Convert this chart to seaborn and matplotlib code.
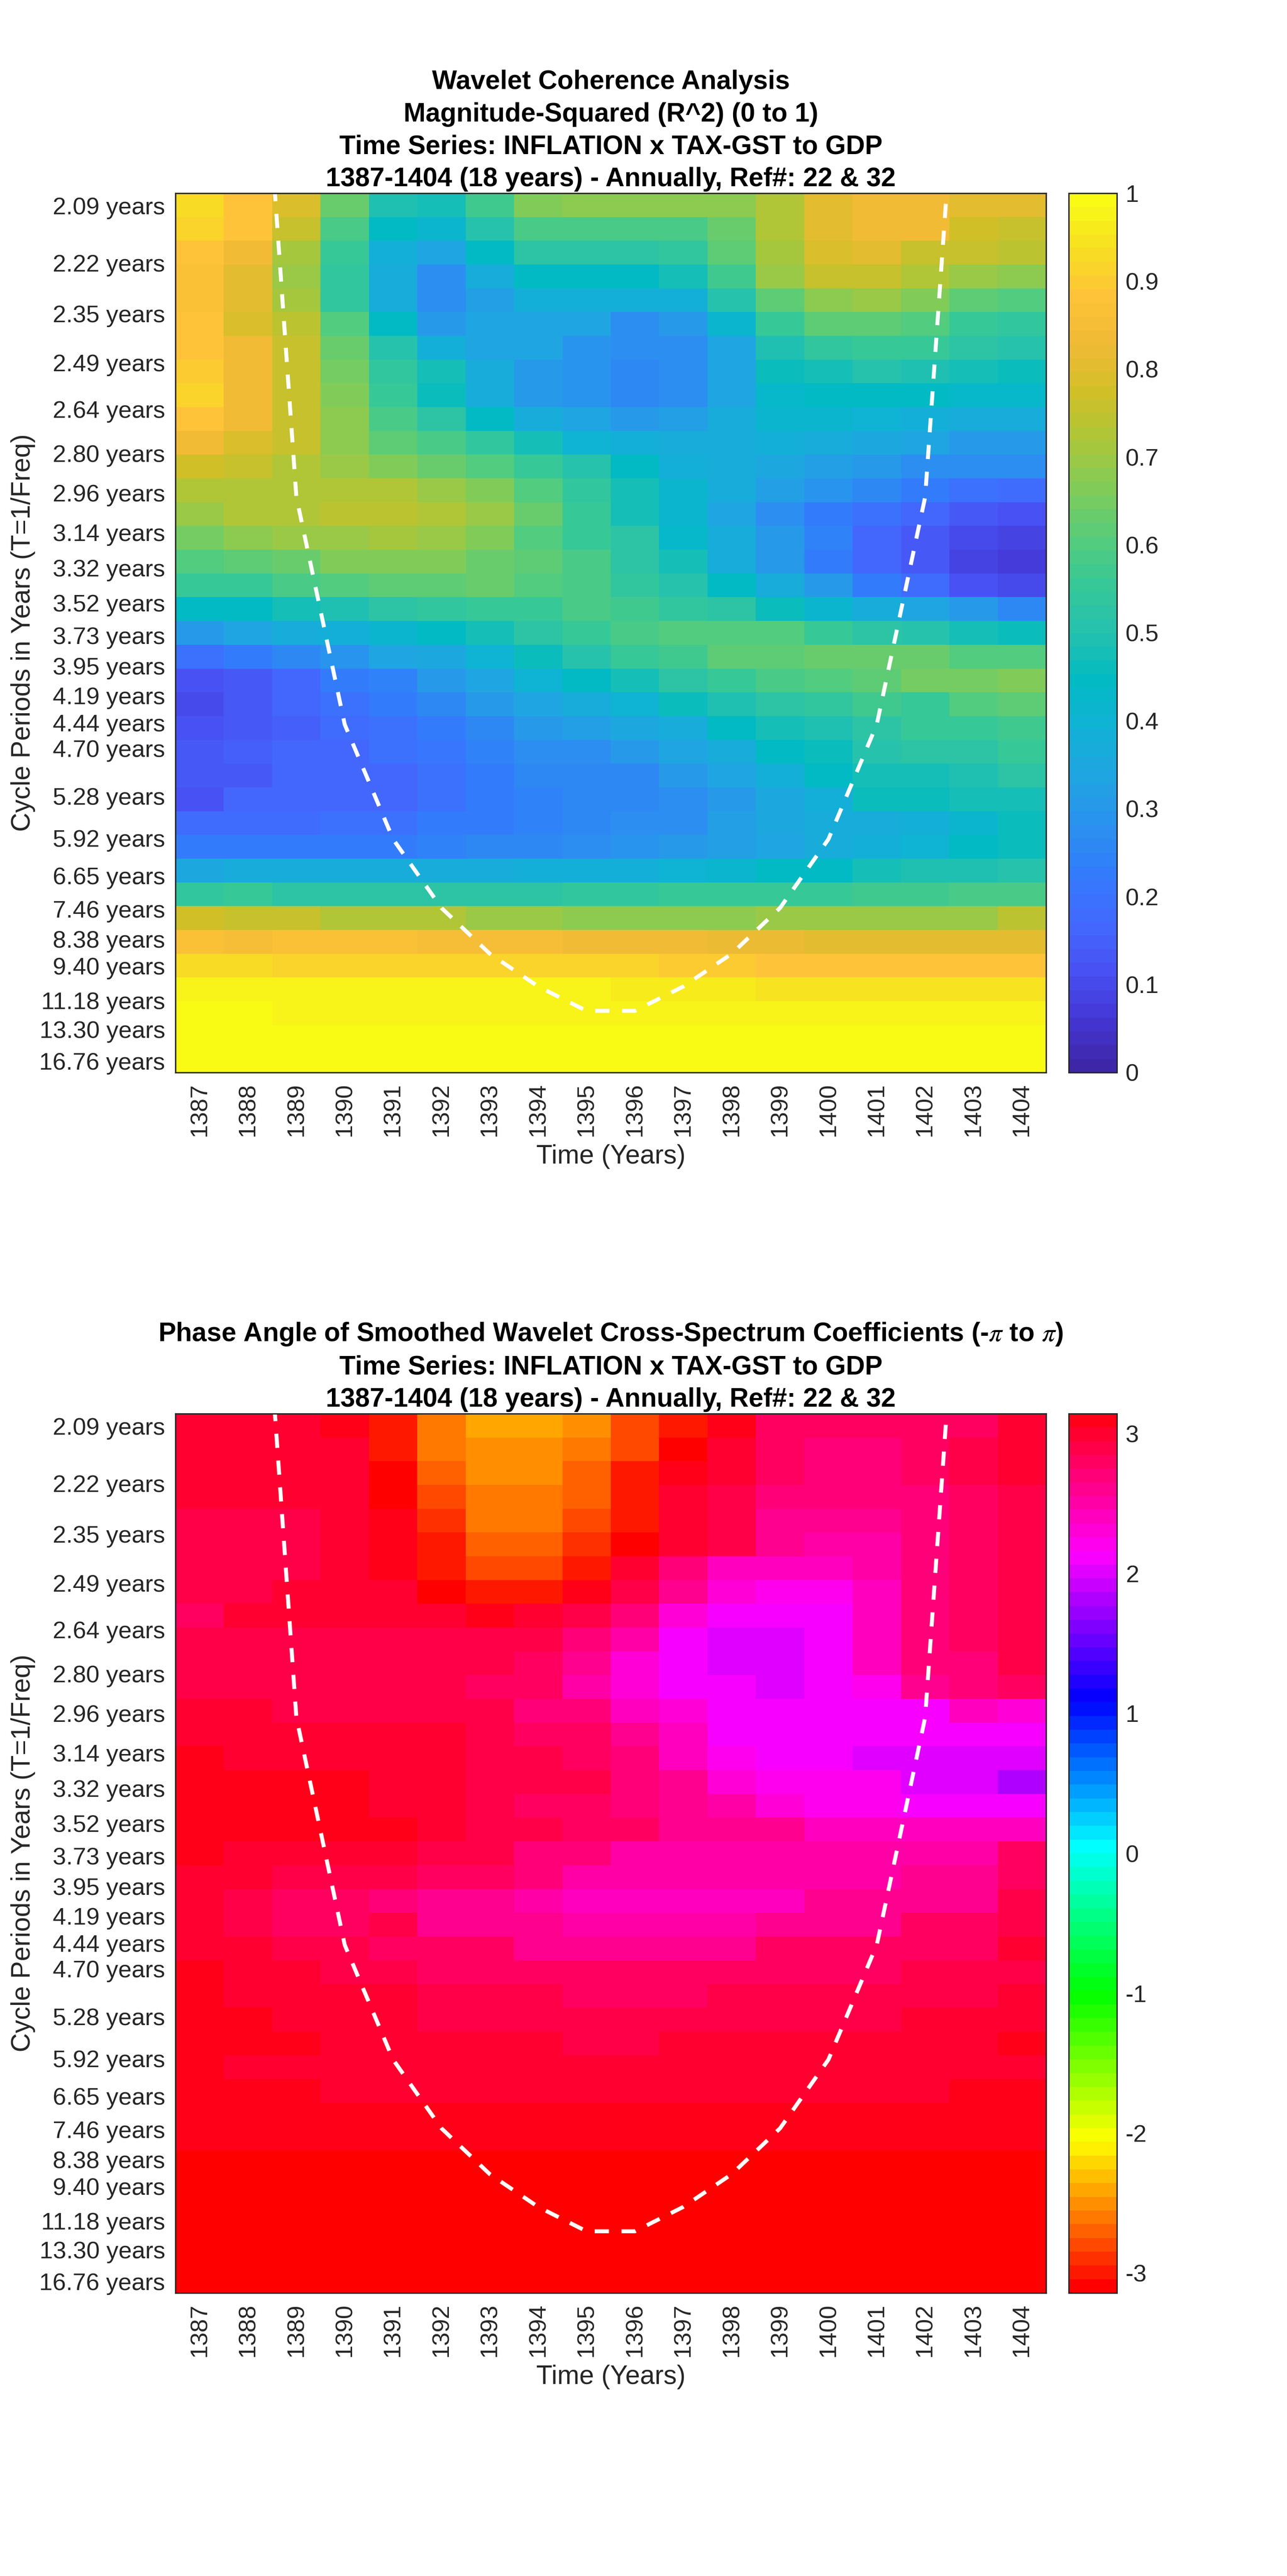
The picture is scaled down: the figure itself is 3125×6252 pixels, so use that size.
import colorsys
import numpy as np
import matplotlib
matplotlib.use("Agg")
import matplotlib.pyplot as plt
from matplotlib.colors import LinearSegmentedColormap, ListedColormap
from matplotlib.transforms import ScaledTranslation
import seaborn as sns

years = list(range(1387, 1405))

periods = [2.09, 2.22, 2.35, 2.49, 2.64, 2.80, 2.96, 3.14, 3.32, 3.52, 3.73, 3.95, 4.19,
           4.44, 4.70, 4.98, 5.28, 5.59, 5.92, 6.27, 6.65, 7.05, 7.46, 7.91, 8.38, 8.88,
           9.40, 9.96, 10.55, 11.18, 11.85, 12.55, 13.30, 14.09, 14.93, 15.82, 16.76]
unlabelled = [4.98, 5.59, 6.27, 7.05, 7.91, 8.88, 9.96, 10.55, 11.85, 12.55, 14.09, 14.93, 15.82]

# cone of influence, in years of period, for 1388..1403
coi_years = list(range(1388, 1404))
coi_period = [1.49, 2.98, 4.46, 5.95, 7.44, 8.93, 10.42, 11.90,
              11.90, 10.42, 8.93, 7.44, 5.95, 4.46, 2.98, 1.49]

coherence = [
    [.93, .89, .79, .63, .49, .47, .57, .66, .68, .68, .68, .68, .73, .80, .84, .84, .81, .80],
    [.92, .89, .76, .59, .44, .42, .50, .58, .59, .59, .59, .64, .73, .80, .84, .83, .77, .76],
    [.89, .84, .71, .56, .38, .33, .45, .53, .53, .53, .54, .62, .71, .79, .81, .76, .76, .74],
    [.87, .80, .70, .54, .36, .28, .37, .45, .45, .44, .47, .57, .69, .76, .76, .72, .69, .68],
    [.86, .80, .71, .54, .37, .28, .32, .39, .38, .38, .38, .50, .62, .68, .70, .67, .62, .60],
    [.88, .79, .74, .60, .45, .31, .33, .33, .33, .28, .30, .42, .56, .62, .62, .60, .56, .54],
    [.89, .84, .76, .63, .50, .38, .34, .33, .29, .27, .28, .34, .49, .54, .56, .55, .52, .50],
    [.90, .84, .76, .65, .54, .47, .36, .31, .29, .26, .28, .33, .46, .47, .50, .49, .48, .46],
    [.91, .84, .76, .67, .55, .46, .37, .31, .29, .26, .28, .33, .43, .44, .44, .44, .43, .43],
    [.89, .84, .76, .68, .59, .52, .45, .36, .33, .30, .32, .37, .41, .41, .40, .38, .37, .37],
    [.84, .79, .75, .68, .62, .59, .54, .47, .40, .38, .37, .37, .38, .37, .35, .33, .31, .31],
    [.78, .76, .73, .70, .66, .64, .60, .56, .50, .44, .39, .36, .35, .32, .31, .28, .27, .27],
    [.73, .73, .73, .72, .72, .70, .67, .60, .54, .48, .41, .36, .32, .29, .25, .22, .19, .18],
    [.70, .72, .72, .74, .74, .72, .69, .64, .56, .48, .41, .33, .28, .23, .19, .16, .14, .12],
    [.65, .68, .69, .70, .71, .70, .66, .60, .55, .52, .43, .36, .30, .24, .17, .14, .10, .09],
    [.60, .62, .64, .66, .66, .66, .64, .62, .59, .53, .47, .37, .31, .23, .17, .13, .08, .07],
    [.55, .56, .58, .60, .61, .61, .63, .60, .59, .54, .50, .45, .37, .30, .23, .18, .11, .10],
    [.44, .45, .47, .49, .53, .54, .55, .56, .58, .57, .54, .52, .46, .41, .36, .34, .30, .26],
    [.31, .33, .36, .38, .41, .45, .48, .53, .56, .59, .60, .60, .60, .55, .52, .50, .47, .46],
    [.19, .23, .25, .29, .33, .35, .40, .46, .51, .55, .57, .61, .62, .64, .63, .63, .60, .60],
    [.12, .14, .17, .22, .24, .31, .34, .40, .45, .47, .53, .56, .58, .60, .62, .65, .65, .66],
    [.10, .13, .16, .20, .22, .25, .30, .33, .37, .40, .46, .49, .52, .54, .57, .56, .60, .62],
    [.11, .13, .15, .18, .19, .23, .25, .30, .32, .35, .37, .45, .47, .49, .53, .55, .56, .57],
    [.14, .15, .17, .17, .19, .21, .24, .27, .28, .30, .33, .36, .45, .46, .50, .52, .53, .55],
    [.13, .14, .17, .17, .17, .19, .23, .25, .26, .26, .31, .33, .38, .44, .47, .47, .49, .52],
    [.12, .16, .17, .17, .17, .19, .23, .24, .25, .25, .27, .30, .35, .38, .46, .46, .47, .48],
    [.18, .18, .18, .19, .20, .22, .23, .24, .26, .27, .28, .32, .35, .37, .37, .38, .42, .46],
    [.23, .23, .23, .23, .23, .24, .25, .26, .28, .29, .30, .32, .34, .36, .38, .40, .44, .46],
    [.35, .36, .36, .36, .36, .36, .37, .38, .38, .38, .40, .42, .44, .44, .47, .49, .49, .50],
    [.54, .55, .53, .53, .53, .52, .53, .53, .54, .54, .55, .55, .56, .56, .57, .57, .59, .59],
    [.77, .76, .76, .73, .73, .72, .70, .70, .68, .68, .68, .68, .69, .70, .70, .70, .70, .74],
    [.86, .85, .87, .87, .87, .85, .85, .85, .84, .84, .84, .82, .82, .81, .81, .81, .81, .81],
    [.93, .93, .92, .92, .92, .92, .91, .91, .91, .91, .90, .90, .89, .89, .89, .89, .89, .89],
    [.98, .98, .97, .97, .97, .97, .97, .97, .97, .96, .96, .96, .95, .95, .95, .95, .95, .95],
    [.985, .985, .98, .98, .98, .98, .98, .98, .98, .98, .975, .975, .97, .97, .97, .97, .97, .97],
    [.995, .995, .99, .99, .99, .99, .99, .99, .99, .99, .99, .99, .99, .99, .99, .99, .985, .985],
    [.998, .998, .998, .998, .998, .998, .998, .998, .998, .998, .998, .998, .998, .998, .998, .998, .998, .998],
]

phase = [
    [3.0, 3.0, 3.0, 3.1, -2.95, -2.62, -2.45, -2.45, -2.52, -2.75, -2.95, 3.08, 2.8, 2.78, 2.78, 2.78, 2.82, 2.95],
    [3.03, 2.95, 3.0, 3.0, -2.95, -2.6, -2.47, -2.47, -2.6, -2.82, -3.13, 3.0, 2.75, 2.72, 2.72, 2.8, 2.85, 2.95],
    [2.97, 2.97, 2.97, 3.03, -3.05, -2.72, -2.52, -2.52, -2.72, -2.95, 3.07, 2.95, 2.75, 2.72, 2.72, 2.8, 2.85, 2.95],
    [2.97, 2.97, 2.97, 2.97, -3.13, -2.82, -2.62, -2.62, -2.72, -3.03, 3.0, 2.88, 2.72, 2.7, 2.68, 2.74, 2.8, 2.92],
    [2.9, 2.9, 2.92, 3.0, 3.08, -2.92, -2.62, -2.62, -2.82, -3.03, 3.03, 2.88, 2.65, 2.6, 2.58, 2.72, 2.78, 2.9],
    [2.92, 2.92, 2.92, 2.97, 3.05, -2.95, -2.72, -2.72, -2.85, -3.13, 3.03, 2.85, 2.58, 2.5, 2.5, 2.68, 2.75, 2.9],
    [2.92, 2.92, 2.92, 3.0, 3.05, -3.0, -2.78, -2.78, -3.0, 3.03, 2.68, 2.42, 2.38, 2.42, 2.52, 2.68, 2.75, 2.9],
    [2.92, 2.92, 2.95, 3.0, 3.03, -3.13, -3.02, -3.02, 3.07, 2.85, 2.6, 2.3, 2.25, 2.25, 2.4, 2.7, 2.78, 2.9],
    [2.82, 2.95, 2.95, 2.95, 3.0, 3.0, 3.07, 3.03, 2.92, 2.7, 2.35, 2.15, 2.15, 2.15, 2.45, 2.7, 2.75, 2.9],
    [2.88, 2.88, 2.88, 2.88, 2.92, 2.92, 2.92, 2.87, 2.7, 2.55, 2.08, 1.97, 1.97, 2.12, 2.38, 2.68, 2.75, 2.88],
    [2.85, 2.85, 2.87, 2.87, 2.88, 2.88, 2.88, 2.82, 2.62, 2.3, 2.08, 1.97, 1.97, 2.12, 2.38, 2.68, 2.72, 2.85],
    [2.87, 2.87, 2.87, 2.87, 2.88, 2.88, 2.78, 2.75, 2.5, 2.3, 2.1, 2.1, 1.98, 2.12, 2.2, 2.6, 2.68, 2.82],
    [2.95, 2.95, 2.88, 2.9, 2.9, 2.9, 2.85, 2.72, 2.68, 2.4, 2.3, 2.1, 2.1, 2.1, 2.1, 2.1, 2.45, 2.35],
    [3.0, 3.0, 2.95, 2.95, 2.95, 2.95, 2.85, 2.78, 2.78, 2.6, 2.4, 2.1, 2.1, 2.1, 2.1, 2.1, 2.1, 2.1],
    [3.1, 3.0, 3.0, 3.0, 2.95, 2.95, 2.85, 2.85, 2.82, 2.7, 2.45, 2.25, 2.15, 2.15, 1.98, 1.98, 1.98, 1.98],
    [3.1, 3.1, 3.05, 3.05, 2.97, 2.97, 2.87, 2.87, 2.85, 2.72, 2.6, 2.35, 2.25, 2.25, 2.2, 2.0, 2.0, 1.85],
    [3.1, 3.1, 3.05, 3.05, 3.0, 2.97, 2.87, 2.8, 2.8, 2.72, 2.65, 2.55, 2.3, 2.25, 2.25, 2.09, 2.09, 2.09],
    [3.1, 3.1, 3.05, 3.05, 3.05, 2.95, 2.88, 2.88, 2.82, 2.82, 2.6, 2.6, 2.6, 2.45, 2.42, 2.42, 2.42, 2.42],
    [3.1, 3.03, 3.03, 3.03, 3.0, 2.9, 2.9, 2.72, 2.72, 2.52, 2.52, 2.5, 2.5, 2.5, 2.5, 2.5, 2.5, 2.78],
    [3.03, 3.0, 2.92, 2.92, 2.92, 2.75, 2.75, 2.72, 2.52, 2.5, 2.5, 2.5, 2.5, 2.5, 2.5, 2.65, 2.65, 2.75],
    [3.0, 2.9, 2.8, 2.8, 2.72, 2.65, 2.65, 2.48, 2.45, 2.45, 2.45, 2.45, 2.45, 2.62, 2.62, 2.62, 2.62, 2.85],
    [3.0, 2.88, 2.8, 2.8, 2.85, 2.65, 2.65, 2.6, 2.55, 2.55, 2.55, 2.55, 2.58, 2.58, 2.62, 2.75, 2.78, 2.88],
    [3.02, 3.0, 2.85, 2.85, 2.82, 2.8, 2.8, 2.62, 2.62, 2.62, 2.62, 2.62, 2.78, 2.78, 2.78, 2.8, 2.78, 3.0],
    [3.05, 3.0, 3.0, 2.92, 2.92, 2.8, 2.8, 2.78, 2.78, 2.78, 2.78, 2.78, 2.8, 2.8, 2.8, 2.9, 2.9, 2.92],
    [3.05, 2.95, 2.95, 2.95, 2.95, 2.85, 2.85, 2.85, 2.78, 2.78, 2.78, 2.88, 2.88, 2.88, 2.88, 2.85, 2.85, 3.02],
    [3.05, 3.05, 2.97, 2.97, 2.97, 2.85, 2.85, 2.85, 2.85, 2.85, 2.85, 2.85, 2.85, 2.85, 2.85, 3.0, 3.0, 3.02],
    [3.07, 3.07, 3.07, 2.97, 2.97, 2.97, 2.97, 2.97, 2.92, 2.92, 2.97, 2.97, 2.97, 2.97, 2.97, 2.97, 2.97, 3.08],
    [3.1, 3.0, 3.0, 3.0, 3.0, 2.95, 2.95, 2.95, 2.95, 2.95, 2.95, 2.95, 2.95, 2.95, 3.02, 3.02, 3.02, 3.02],
    [3.1, 3.1, 3.1, 3.03, 3.03, 3.0, 3.0, 3.0, 3.0, 3.0, 3.0, 3.0, 3.0, 3.0, 3.0, 3.0, 3.05, 3.05],
    [3.06, 3.06, 3.06, 3.06, 3.06, 3.06, 3.06, 3.06, 3.06, 3.06, 3.06, 3.06, 3.06, 3.06, 3.06, 3.06, 3.06, 3.06],
    [3.12, 3.12, 3.07, 3.07, 3.07, 3.07, 3.07, 3.07, 3.07, 3.07, 3.07, 3.07, 3.07, 3.07, 3.07, 3.07, 3.07, 3.07],
    [-3.13, -3.13, -3.13, -3.13, -3.13, -3.13, -3.13, -3.13, -3.13, -3.13, -3.13, -3.13, -3.13, -3.13, -3.13, -3.13, -3.13, -3.13],
    [-3.13, -3.13, -3.13, -3.13, -3.13, -3.13, -3.13, -3.13, -3.13, -3.13, -3.13, -3.13, -3.13, -3.13, -3.13, -3.13, -3.13, -3.13],
    [-3.13, -3.13, -3.13, -3.13, -3.13, -3.13, -3.13, -3.13, -3.13, -3.13, -3.13, -3.13, -3.13, -3.13, -3.13, -3.13, -3.13, -3.13],
    [-3.13, -3.13, -3.13, -3.13, -3.13, -3.13, -3.13, -3.13, -3.13, -3.13, -3.13, -3.13, -3.13, -3.13, -3.13, -3.13, -3.13, -3.13],
    [-3.13, -3.13, -3.13, -3.13, -3.13, -3.13, -3.13, -3.13, -3.13, -3.13, -3.13, -3.13, -3.13, -3.13, -3.13, -3.13, -3.13, -3.13],
    [-3.13, -3.13, -3.13, -3.13, -3.13, -3.13, -3.13, -3.13, -3.13, -3.13, -3.13, -3.13, -3.13, -3.13, -3.13, -3.13, -3.13, -3.13],
]

title_top = ("Wavelet Coherence Analysis\nMagnitude-Squared (R^2) (0 to 1)\n"
             "Time Series: INFLATION x TAX-GST to GDP\n1387-1404 (18 years) - Annually, Ref#: 22 & 32")
title_bottom = ("Phase Angle of Smoothed Wavelet Cross-Spectrum Coefficients (-$\\pi$ to $\\pi$)\n"
                "Time Series: INFLATION x TAX-GST to GDP\n1387-1404 (18 years) - Annually, Ref#: 22 & 32")

sns.set_theme(style="white")
plt.rcParams['font.family'] = ['Liberation Sans', 'DejaVu Sans']
plt.rcParams['mathtext.fontset'] = 'stix'

# parula and hsv, 64 steps like the matlab ones
parula_anchors = [(.2422, .1504, .6603), (.2706, .2147, .8364), (.2810, .3228, .9579),
                  (.2602, .4123, .9952), (.1963, .4847, .9892), (.1687, .5703, .9359),
                  (.1248, .6459, .8883), (.0689, .6948, .8394), (.0067, .7312, .7660),
                  (.1408, .7584, .6842), (.2161, .7843, .5923), (.3406, .8008, .4789),
                  (.5044, .7993, .3480), (.6720, .7793, .2227), (.8203, .7498, .1535),
                  (.9393, .7288, .2100), (.9970, .7659, .2199), (.9676, .8725, .1273),
                  (.9769, .9839, .0805)]
parula = LinearSegmentedColormap.from_list("parula", parula_anchors, N=64)
phase_map = ListedColormap([colorsys.hsv_to_rgb(i / 64, 1, 1) for i in range(64)])

W, H = 3125, 6252
dark = "#262626"


def tick_pos(p):
    # ticks sit on a linear frequency scale while the cells stay evenly spaced
    f0, f1 = 1 / periods[0], 1 / periods[-1]
    return 0.5 + (len(periods) - 1) * (f0 - 1 / np.asarray(p)) / (f0 - f1)


fig = plt.figure(figsize=(W / 300, H / 300), dpi=300)


def panel(top, data, cmap, vmin, vmax, cticks, title):
    ax = fig.add_axes([426 / W, 1 - (top + 2134) / H, 2114 / W, 2134 / H])
    cax = fig.add_axes([2595 / W, 1 - (top + 2134) / H, 117 / W, 2134 / H])
    sns.heatmap(np.array(data), ax=ax, cbar_ax=cax, cmap=cmap, vmin=vmin, vmax=vmax)

    ax.plot(np.array(coi_years) - years[0] + 0.5, tick_pos(coi_period), color="white",
            lw=2.3, dashes=(3.6, 3.2), dash_capstyle="butt", solid_joinstyle="miter")
    ax.set_ylim(len(periods), 0)
    ax.set_xlim(0, len(years))

    ax.set_xticks(np.arange(len(years)) + 0.5)
    ax.set_xticklabels(years, rotation=90, fontsize=14, color=dark)
    ax.set_yticks(tick_pos(periods))
    ax.set_yticklabels(["" if p in unlabelled else f"{p:.2f} years" for p in periods],
                       rotation=0, fontsize=14, color=dark)
    ax.tick_params(axis="both", direction="in", length=5, width=0.5, color=dark,
                   top=True, right=True, bottom=True, left=True, pad=6)
    # matlab puts these labels a touch under their ticks
    shift = ScaledTranslation(0, -7 / 300, fig.dpi_scale_trans)
    for lab in ax.get_yticklabels():
        lab.set_transform(lab.get_transform() + shift)
    for s in ax.spines.values():
        s.set_visible(True)
        s.set_color(dark)
        s.set_linewidth(0.8)

    ax.set_xlabel("Time (Years)", fontsize=15.4, color=dark, va="center")
    ax.xaxis.set_label_coords(0.5, -0.0956)
    ax.set_ylabel("Cycle Periods in Years (T=1/Freq)", fontsize=15.4, color=dark, va="center")
    ax.yaxis.set_label_coords(-0.175, 0.5)
    ax.set_title(title, fontsize=15.4, fontweight="bold", color="black", linespacing=1.4, pad=4)

    cb = ax.collections[0].colorbar
    cb.set_ticks(cticks)
    cb.set_ticklabels([f"{t:g}" for t in cticks])
    cb.ax.tick_params(direction="in", length=5, width=0.5, color=dark, labelsize=14,
                      labelcolor=dark, right=True, pad=5)
    cb.outline.set_visible(True)
    cb.outline.set_edgecolor(dark)
    cb.outline.set_linewidth(0.8)


panel(469, coherence, parula, 0, 1, [0, .1, .2, .3, .4, .5, .6, .7, .8, .9, 1], title_top)
panel(3431, phase, phase_map, -np.pi, np.pi, [-3, -2, -1, 0, 1, 2, 3], title_bottom)

fig.savefig("out.png", dpi=300)
